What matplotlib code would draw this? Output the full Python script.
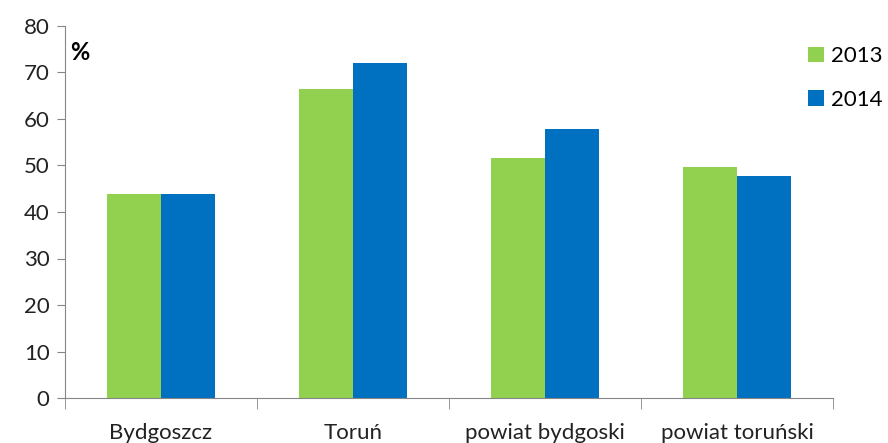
import numpy as np
import matplotlib.pyplot as plt

categories = ['Bydgoszcz', 'Toruń', 'powiat bydgoski', 'powiat toruński']
values_2013 = [43.8, 66.4, 51.6, 49.6]
values_2014 = [43.8, 72.0, 57.8, 47.7]
years = ['2013', '2014']

plt.rcParams['font.family'] = ['Lato', 'DejaVu Sans']

fig = plt.figure(figsize=(8.88, 4.43), dpi=100)
ax = fig.add_axes([65/888, 1 - 398/443, (833 - 65)/888, (398 - 26)/443])

x = np.arange(len(categories))
w = 0.28
ax.bar(x - w/2, values_2013, w, color='#92d050', label=years[0])
ax.bar(x + w/2, values_2014, w, color='#0070c0', label=years[1])

ax.set_xlim(-0.5, len(categories) - 0.5)
ax.set_ylim(0, 80)
ax.set_yticks(range(0, 81, 10))
ax.tick_params(axis='y', labelsize=16, length=6, color='#868686', pad=5, labelcolor='#222222')

# category labels centred, ticks at the boundaries
ax.set_xticks(x)
ax.set_xticklabels(categories, fontsize=16, color='#222222')
ax.tick_params(axis='x', length=0, pad=18)
ax.set_xticks(np.arange(-0.5, len(categories)), minor=True)
ax.tick_params(axis='x', which='minor', length=8, color='#868686')

for s in ['top', 'right']:
    ax.spines[s].set_visible(False)
for s in ['left', 'bottom']:
    ax.spines[s].set_color('#868686')

ax.text(0.007, 0.93, '%', transform=ax.transAxes, fontsize=17, fontweight='bold', va='center')

ax.legend(loc='upper left', bbox_to_anchor=(0.968, 0.945), frameon=False, fontsize=16,
          handlelength=0.7, handleheight=0.7, handletextpad=0.3, labelspacing=1.05,
          borderaxespad=0, borderpad=0)

plt.savefig('out.png', dpi=100)
